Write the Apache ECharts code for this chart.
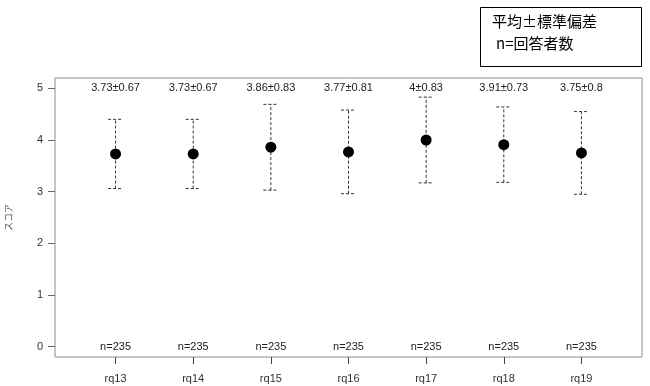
<!DOCTYPE html>
<html>
<head>
<meta charset="utf-8">
<script src="https://cdn.jsdelivr.net/npm/echarts@6/dist/echarts.min.js"></script>
<style>html,body{margin:0;padding:0;background:#fff}#c{width:650px;height:386px}</style>
</head>
<body>
<div id="c"></div>
<script>
const categories = ["rq13","rq14","rq15","rq16","rq17","rq18","rq19"];
const means = [3.73, 3.73, 3.86, 3.77, 4.00, 3.91, 3.75];
const sds = [0.67, 0.67, 0.83, 0.81, 0.83, 0.73, 0.8];
const meanLabels = ["3.73±0.67","3.73±0.67","3.86±0.83","3.77±0.81","4±0.83","3.91±0.73","3.75±0.8"];
const counts = [235, 235, 235, 235, 235, 235, 235];
const yTicks = [0, 1, 2, 3, 4, 5];
const xTicks = categories.map((c, i) => i + 1);

const chart = echarts.init(document.getElementById('c'), null, {renderer: 'canvas'});
const fontFam = 'Liberation Sans, Arial, sans-serif';

const errData = means.map((m, i) => [i + 1, m - sds[i], m + sds[i]]);
const ptData = means.map((m, i) => [i + 1, m]);
const topLabelData = meanLabels.map((t, i) => [i + 1, 5, t]);
const nLabelData = counts.map((n, i) => [i + 1, 0, 'n=' + n]);

chart.setOption({
  animation: false,
  grid: {left: 55, right: 8, top: 78, bottom: 29, containLabel: false, outerBoundsMode: 'none', show: true, borderColor: '#8c8c8c', borderWidth: 1, backgroundColor: 'transparent'},
  xAxis: {
    type: 'value', min: 0.22, max: 7.78, position: 'bottom',
    axisLine: {show: false, onZero: false},
    splitLine: {show: false},
    axisTick: {show: true, inside: false, customValues: xTicks, length: 7, lineStyle: {color: '#444', width: 1}},
    axisLabel: {customValues: xTicks, formatter: v => categories[Math.round(v) - 1] || '', color: '#333', fontSize: 11, fontFamily: fontFam, margin: 16}
  },
  yAxis: {
    type: 'value', min: -0.2, max: 5.2,
    name: 'スコア', nameLocation: 'middle', nameGap: 42,
    nameTextStyle: {fontSize: 9, color: '#555', fontFamily: 'Noto Sans CJK JP'},
    axisLine: {show: false, onZero: false},
    splitLine: {show: false},
    axisTick: {show: true, customValues: yTicks, length: 7, lineStyle: {color: '#666'}},
    axisLabel: {customValues: yTicks, color: '#333', fontSize: 11, fontFamily: fontFam, margin: 12}
  },
  series: [
    {
      type: 'custom',
      data: errData,
      renderItem: function (params, api) {
        const x = api.value(0);
        const lo = api.coord([x, api.value(1)]);
        const hi = api.coord([x, api.value(2)]);
        const hw = 7.5;
        const style = {stroke: '#333', lineWidth: 1, lineDash: [3, 2]};
        return {
          type: 'group',
          children: [
            {type: 'line', shape: {x1: lo[0], y1: lo[1], x2: hi[0], y2: hi[1]}, style: style},
            {type: 'line', shape: {x1: hi[0] - hw, y1: hi[1], x2: hi[0] + hw, y2: hi[1]}, style: style},
            {type: 'line', shape: {x1: lo[0] - hw, y1: lo[1], x2: lo[0] + hw, y2: lo[1]}, style: style}
          ]
        };
      },
      z: 2
    },
    {
      type: 'scatter',
      data: ptData,
      symbol: 'circle',
      symbolSize: 11,
      itemStyle: {color: '#000', opacity: 1},
      z: 3
    },
    {
      type: 'custom',
      data: topLabelData,
      renderItem: function (params, api) {
        const p = api.coord([api.value(0), api.value(1)]);
        return {type: 'text', style: {x: p[0], y: p[1], text: topLabelData[params.dataIndex][2], fill: '#222', font: '11px ' + fontFam, textAlign: 'center', textVerticalAlign: 'middle'}};
      }
    },
    {
      type: 'custom',
      data: nLabelData,
      renderItem: function (params, api) {
        const p = api.coord([api.value(0), api.value(1)]);
        return {type: 'text', style: {x: p[0], y: p[1], text: nLabelData[params.dataIndex][2], fill: '#222', font: '11px ' + fontFam, textAlign: 'center', textVerticalAlign: 'middle'}};
      }
    }
  ],
  graphic: [
    {type: 'rect', left: 480, top: 7, shape: {width: 161, height: 59}, style: {fill: '#fff', stroke: '#000', lineWidth: 1}},
    {type: 'text', left: 492, top: 14, style: {text: '平均±標準偏差', font: '15px "Noto Sans CJK JP"', fill: '#000'}},
    {type: 'text', left: 496, top: 36, style: {text: 'n=回答者数', font: '15px "Noto Sans CJK JP"', fill: '#000'}}
  ]
});
</script>
</body>
</html>
